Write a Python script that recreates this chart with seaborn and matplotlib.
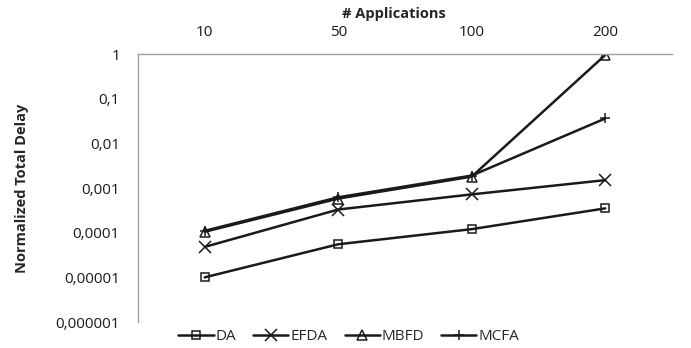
import pandas as pd
import seaborn as sns
import matplotlib.pyplot as plt

# datos
applications = ["10", "50", "100", "200"]
da = [1.0e-5, 5.5e-5, 1.2e-4, 3.5e-4]
efda = [4.8e-5, 3.3e-4, 7.2e-4, 1.5e-3]
mbfd = [1.05e-4, 5.8e-4, 1.8e-3, 0.95]
mcfa = [1.1e-4, 6.2e-4, 1.9e-3, 0.036]
series = ["DA", "EFDA", "MBFD", "MCFA"]
ytick_vals = [1e-6, 1e-5, 1e-4, 1e-3, 1e-2, 1e-1, 1]
ytick_labels = ["0,000001", "0,00001", "0,0001", "0,001", "0,01", "0,1", "1"]

rows = []
for name, vals in zip(series, [da, efda, mbfd, mcfa]):
    for i, v in enumerate(vals):
        rows.append({"pos": i, "valor": v, "serie": name})
df = pd.DataFrame(rows)

sns.set_style("white")
plt.rcParams["font.family"] = ["Open Sans", "DejaVu Sans"]

fig = plt.figure(figsize=(6.91, 3.48), dpi=100)
ax = fig.add_axes([0.1997, 0.0747, 0.7728, 0.7701])

# seaborn no permite mezclar marcadores rellenos y de linea: una llamada por serie
marcadores = {"DA": "s", "EFDA": "x", "MBFD": "^", "MCFA": "+"}
tamanos = {"DA": 6, "EFDA": 8.5, "MBFD": 7.5, "MCFA": 7.5}
for name in series:
    sns.lineplot(data=df[df["serie"] == name], x="pos", y="valor",
                 marker=marcadores[name], markersize=tamanos[name],
                 color="#1a1a1a", linewidth=1.8, mfc="none", mec="#1a1a1a",
                 mew=1.1, label=name, legend=False, ax=ax)

ax.set_yscale("log")
ax.set_ylim(1e-6, 1)
ax.set_yticks(ytick_vals)
ax.set_yticklabels(ytick_labels)
ax.minorticks_off()
ax.set_xlim(-0.5, 3.5)
ax.set_xticks(range(len(applications)))
ax.set_xticklabels(applications)
ax.xaxis.tick_top()
ax.xaxis.set_label_position("top")
ax.tick_params(axis="both", length=0, labelsize=11, colors="#1a1a1a")
ax.tick_params(axis="y", pad=13)
ax.tick_params(axis="x", pad=10)

ax.set_xlabel("# Applications", fontsize=10.5, fontweight="bold", labelpad=2)
ax.xaxis.set_label_coords(0.479, 1.135)
ax.set_ylabel("Normalized Total Delay", fontsize=10.5, fontweight="bold")
ax.yaxis.set_label_coords(-0.205, 0.5)

for s in ["bottom", "right"]:
    ax.spines[s].set_visible(False)
for s in ["top", "left"]:
    ax.spines[s].set_color("#a0a0a0")
    ax.spines[s].set_linewidth(1)

ax.legend(loc="center", bbox_to_anchor=(0.395, -0.055), ncol=4, frameon=False,
          fontsize=11, handlelength=2.3, handletextpad=0.15, columnspacing=1.1,
          numpoints=1)

plt.savefig("out.png", dpi=100)
